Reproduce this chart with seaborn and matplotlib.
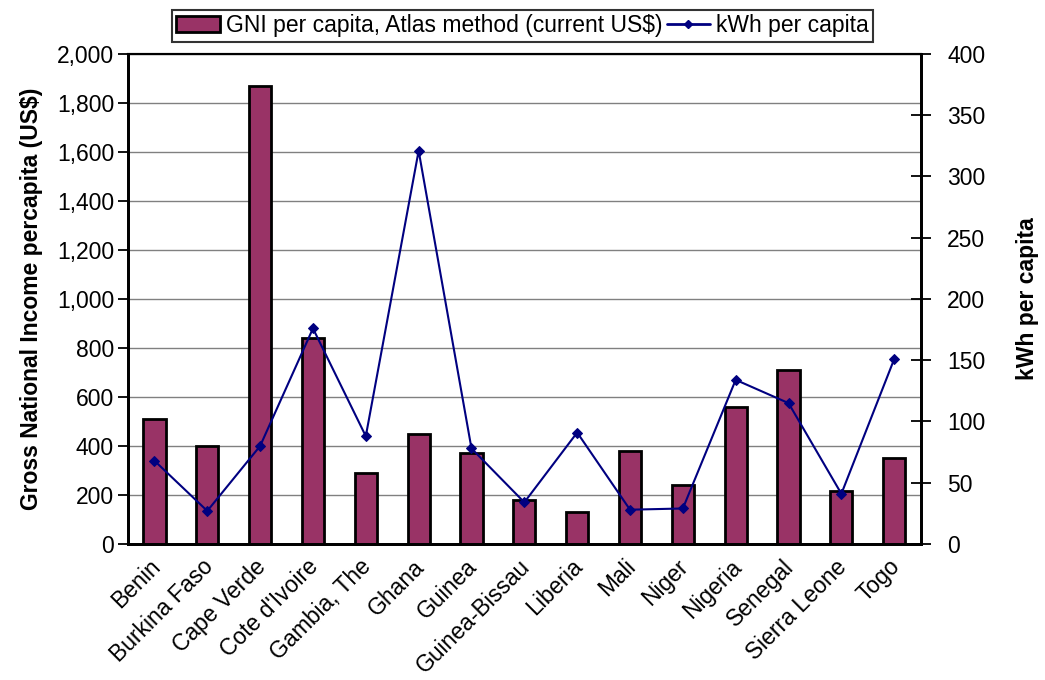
import numpy as np
import pandas as pd
import matplotlib
matplotlib.use("Agg")
import matplotlib.pyplot as plt
import matplotlib.transforms as mtransforms
import seaborn as sns
from matplotlib.patches import Patch
from matplotlib.lines import Line2D
from matplotlib.ticker import FuncFormatter, MultipleLocator

countries = ["Benin", "Burkina Faso", "Cape Verde", "Cote d'Ivoire", "Gambia, The",
             "Ghana", "Guinea", "Guinea-Bissau", "Liberia", "Mali", "Niger",
             "Nigeria", "Senegal", "Sierra Leone", "Togo"]
gni = [510, 400, 1870, 840, 290, 450, 370, 180, 130, 380, 240, 560, 710, 215, 350]
kwh = [68, 27, 80, 176, 88, 321, 78, 34, 91, 28, 29, 134, 115, 41, 151]

bar_color = "#993366"
line_color = "#000080"

sns.set_style("white")
plt.rcParams['font.family'] = ['Liberation Sans', 'DejaVu Sans']
plt.rcParams.update({"text.color": "black", "axes.labelcolor": "black",
                     "xtick.color": "black", "ytick.color": "black"})

df = pd.DataFrame({"country": countries, "gni": gni, "kwh": kwh})

fig = plt.figure(figsize=(10.45, 6.8), dpi=100)
ax = fig.add_axes([0.1225, 0.2, 0.7585, 0.7206])

sns.barplot(data=df, x="country", y="gni", color=bar_color, width=0.42,
            edgecolor="black", linewidth=2, saturation=1, ax=ax, zorder=3)
ax.set_ylim(0, 2000)
ax.set_xlim(-0.5, len(countries) - 0.5)
ax.yaxis.set_major_locator(MultipleLocator(200))
ax.yaxis.set_major_formatter(FuncFormatter(lambda v, p: f"{int(v):,}"))
ax.grid(axis="y", color="#808080", linewidth=1, zorder=0)
ax.set_axisbelow(True)

# labels at bar centres, tick marks between categories
ax.set_xticks(np.arange(len(countries)))
ax.set_xticklabels(countries, rotation=45, ha="right", rotation_mode="anchor", fontsize=16.5)
ax.tick_params(axis="x", length=0, pad=8)
shift = mtransforms.ScaledTranslation(-6 / 100, 0, fig.dpi_scale_trans)
for lbl in ax.get_xticklabels():
    lbl.set_transform(lbl.get_transform() + shift)
ax.set_xticks(np.arange(-0.5, len(countries)), minor=True)
ax.tick_params(axis="x", which="minor", length=8, width=1.3, color="black", direction="out")
ax.tick_params(axis="y", length=7, width=1.3, direction="out", labelsize=16.5, left=True, pad=3)
ax.set_xlabel("")
ax.set_ylabel("Gross National Income percapita (US$)", fontsize=16.5, fontweight="bold", labelpad=10)
for s in ax.spines.values():
    s.set_color("black")
    s.set_linewidth(2)
ax.spines["top"].set_linewidth(1.5)

ax2 = ax.twinx()
sns.lineplot(x=np.arange(len(countries)), y=kwh, ax=ax2, color=line_color, linewidth=1.5,
             marker="D", markersize=5, markeredgecolor=line_color, zorder=5)
ax2.set_ylim(0, 400)
ax2.yaxis.set_major_locator(MultipleLocator(50))
ax2.tick_params(axis="y", length=14, width=1.3, direction="inout", labelsize=16.5, right=True, pad=12)
ax2.set_ylabel("kWh per capita", fontsize=16.5, fontweight="bold", labelpad=22)
for s in ax2.spines.values():
    s.set_color("black")
    s.set_linewidth(2)
ax2.spines["top"].set_linewidth(1.5)

handles = [Patch(facecolor=bar_color, edgecolor="black", linewidth=2),
           Line2D([0], [0], color=line_color, linewidth=2, marker="D", markersize=4)]
labels = ["GNI per capita, Atlas method (current US$)", "kWh per capita"]
leg = fig.legend(handles, labels, loc="center", bbox_to_anchor=(0.5, 0.962), ncol=2,
                 fontsize=16.5, frameon=True, fancybox=False, edgecolor="black",
                 handlelength=1.9, handletextpad=0.25, columnspacing=0.2, borderpad=0.2,
                 borderaxespad=0)
leg.get_frame().set_linewidth(1.5)

fig.savefig("out.png", dpi=100)
